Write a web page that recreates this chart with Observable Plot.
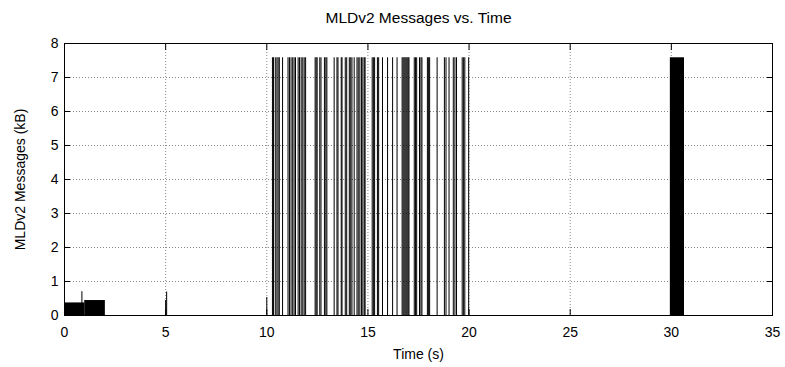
<!DOCTYPE html>
<html><head><meta charset="utf-8">
<script src="https://cdn.jsdelivr.net/npm/d3@7"></script>
<script src="https://cdn.jsdelivr.net/npm/@observablehq/plot@0.6"></script>
<style>body{margin:0;background:#fff} svg{display:block}</style>
</head><body><div id="chart"></div>
<script>
const title = "MLDv2 Messages vs. Time";
const xLabel = "Time (s)";
const yLabel = "MLDv2 Messages (kB)";
const xTicks = [0, 5, 10, 15, 20, 25, 30, 35];
const yTicks = [0, 1, 2, 3, 4, 5, 6, 7, 8];

// individual message impulses: [time (s), size (kB)]
const impulses = [
  [0.86, 0.70], [5.00, 0.44], [5.05, 0.69], [10.00, 0.53],
  [10.28, 7.58], [10.33, 7.58], [10.42, 7.58], [10.50, 7.58], [10.56, 7.58], [10.62, 7.58],
  [10.78, 7.58],
  [11.05, 7.58], [11.12, 7.58], [11.20, 7.58], [11.28, 7.58], [11.35, 7.58], [11.42, 7.58],
  [11.55, 7.58], [11.62, 7.58], [11.70, 7.58], [11.78, 7.58], [11.85, 7.58], [11.92, 7.58],
  [12.39, 7.58], [12.44, 7.58], [12.49, 7.58],
  [12.62, 7.58], [12.68, 7.58],
  [12.85, 7.58], [12.92, 7.58], [12.97, 7.58],
  [13.33, 7.58],
  [13.47, 7.58], [13.52, 7.58], [13.68, 7.58], [13.72, 7.58],
  [13.88, 7.58], [13.95, 7.58],
  [14.08, 7.58], [14.15, 7.58], [14.21, 7.58],
  [14.32, 7.58],
  [14.46, 7.58], [14.52, 7.58], [14.60, 7.58], [14.68, 7.58], [14.75, 7.58], [14.82, 7.58], [14.86, 7.58],
  [15.21, 7.58], [15.27, 7.58], [15.33, 7.58],
  [15.47, 7.58], [15.53, 7.58],
  [15.72, 7.58],
  [15.97, 7.58],
  [16.22, 7.58],
  [16.44, 7.58],
  [16.69, 7.58], [16.74, 7.58], [16.79, 7.58], [16.84, 7.58], [16.89, 7.58], [16.94, 7.58], [16.99, 7.58], [17.03, 7.58],
  [17.29, 7.58], [17.35, 7.58], [17.41, 7.58],
  [17.55, 7.58], [17.62, 7.58], [17.67, 7.58],
  [17.94, 7.58], [18.00, 7.58], [18.05, 7.58],
  [18.42, 7.58],
  [18.78, 7.58], [18.86, 7.58],
  [19.01, 7.58],
  [19.22, 7.58], [19.30, 7.58], [19.38, 7.58],
  [19.66, 7.58], [19.73, 7.58], [19.79, 7.58],
  [19.98, 7.58]
];

// dense runs of messages that merge into solid blocks
const blockStart = [0.00, 1.00, 29.95];
const blockEnd   = [1.00, 2.02, 30.65];
const blockValue = [0.37, 0.44, 7.58];

const impulseData = impulses.map(([t, v]) => ({t, v}));
const blockData = blockStart.map((s, i) => ({x1: s, x2: blockEnd[i], v: blockValue[i]}));

const chart = Plot.plot({
  width: 785, height: 367,
  marginLeft: 64, marginRight: 13, marginTop: 43, marginBottom: 52,
  x: {domain: [0, 35]},
  y: {domain: [0, 8]},
  style: {fontFamily: "'Liberation Sans', Arial, sans-serif", fontSize: "14px", color: "#000", background: "#fff"},
  marks: [
    Plot.gridX(xTicks, {stroke: "#888", strokeOpacity: 1, strokeDasharray: "1,2"}),
    Plot.gridY(yTicks, {stroke: "#888", strokeOpacity: 1, strokeDasharray: "1,2"}),
    Plot.rectY(blockData, {x1: "x1", x2: "x2", y1: 0, y2: "v", fill: "black"}),
    Plot.ruleX(impulseData, {x: "t", y1: 0, y2: "v", stroke: "black", strokeWidth: 1}),
    Plot.frame({stroke: "black"}),
    Plot.axisX(xTicks, {anchor: "bottom", tickSize: -6, tickPadding: 18, label: null}),
    Plot.axisX(xTicks, {anchor: "top", tickSize: -6, tickFormat: () => "", label: null}),
    Plot.axisY(yTicks, {anchor: "left", tickSize: -6, tickPadding: 12, label: null}),
    Plot.axisY(yTicks, {anchor: "right", tickSize: -6, tickFormat: () => "", label: null}),
    Plot.text([title], {text: d => d, frameAnchor: "top", dy: -25, lineAnchor: "middle", textAnchor: "middle", fontSize: 15.5}),
    Plot.text([xLabel], {text: d => d, frameAnchor: "bottom", dy: 39, lineAnchor: "middle", textAnchor: "middle"}),
    Plot.text([yLabel], {text: d => d, frameAnchor: "left", dx: -44, rotate: -90, lineAnchor: "middle", textAnchor: "middle"})
  ]
});
document.getElementById("chart").appendChild(chart);
</script>
</body></html>
